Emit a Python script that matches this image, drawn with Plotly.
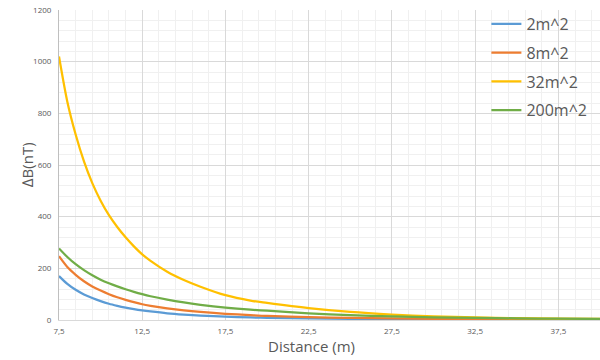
import plotly.graph_objects as go

distance = [7.5, 8, 8.5, 9, 9.5, 10, 10.5, 11, 11.5, 12, 12.5, 13, 14, 15, 16, 17.5,
            19, 20, 22.5, 25, 27.5, 30, 32.5, 35, 37.5, 40]

s_2m2 = [170, 140, 117, 99, 85, 73, 63, 55, 48, 42, 37, 33, 26, 21, 17, 13,
         10, 8.5, 6, 4.5, 3.3, 2.5, 2, 1.5, 1.2, 1]
s_8m2 = [247, 205, 175, 150, 130, 114, 100, 88, 78, 69, 61, 55, 45, 37, 31, 24,
         19, 16, 11.5, 8, 6, 4.5, 3.5, 2.5, 2, 1.5]
s_32m2 = [1020, 845, 718, 614, 530, 462, 406, 360, 320, 285, 254, 229, 187, 155, 129, 96,
          75, 66, 46, 31, 21, 14, 10, 7, 5, 4]
s_200m2 = [277, 244, 216, 193, 173, 156, 142, 130, 119, 109, 100, 92, 79, 68, 59, 48,
           40, 36, 26, 19, 14, 10.5, 8, 6.5, 5, 4]

names = ["2m^2", "8m^2", "32m^2", "200m^2"]
series = [s_2m2, s_8m2, s_32m2, s_200m2]
colors = ["#5B9BD5", "#ED7D31", "#FFC000", "#70AD47"]

x_ticks = [7.5, 12.5, 17.5, 22.5, 27.5, 32.5, 37.5]
x_ticktext = ["7,5", "12,5", "17,5", "22,5", "27,5", "32,5", "37,5"]
y_ticks = [0, 200, 400, 600, 800, 1000, 1200]

font_family = "Open Sans, Noto Sans, sans-serif"
text_color = "#595959"

fig = go.Figure()
for n, s, c in zip(names, series, colors):
    fig.add_trace(go.Scatter(
        x=distance, y=s, name=n, mode="lines",
        line=dict(color=c, width=2.25, shape="spline", smoothing=0.8),
        legendgroup=n,
    ))

fig.update_layout(
    width=600, height=360,
    margin=dict(l=59, r=0, t=10, b=40),
    plot_bgcolor="white", paper_bgcolor="white",
    font=dict(family=font_family, color=text_color),
    showlegend=True,
    legend=dict(
        x=0.79, y=1.01, xanchor="left", yanchor="top",
        bgcolor="rgba(0,0,0,0)",
        font=dict(size=16, color=text_color),
        tracegroupgap=5,
        itemwidth=30,
    ),
    xaxis=dict(
        range=[7.5, 40],
        tickvals=x_ticks, ticktext=x_ticktext,
        tickfont=dict(size=8, color=text_color),
        ticklabelstandoff=3,
        showgrid=True, gridcolor="#d9d9d9", gridwidth=1,
        minor=dict(dtick=1, tick0=7.5, showgrid=True, gridcolor="#f0f0f0", gridwidth=1),
        showline=True, linecolor="#d9d9d9", linewidth=1,
        zeroline=False, ticks="", automargin=False,
    ),
    yaxis=dict(
        range=[0, 1200],
        tickvals=y_ticks,
        tickfont=dict(size=8, color=text_color),
        ticklabelstandoff=5,
        showgrid=True, gridcolor="#d9d9d9", gridwidth=1,
        minor=dict(dtick=40, tick0=0, showgrid=True, gridcolor="#f0f0f0", gridwidth=1),
        showline=True, linecolor="#bfbfbf", linewidth=1,
        zeroline=False, ticks="", automargin=False,
    ),
    annotations=[
        dict(text="Distance (m)", xref="paper", yref="paper",
             x=0.466, y=-0.045, xanchor="center", yanchor="top",
             showarrow=False, font=dict(size=15, color=text_color)),
        dict(text="∆B(nT)", xref="paper", yref="paper",
             x=-0.059, y=0.5, xanchor="center", yanchor="middle", textangle=-90,
             showarrow=False, font=dict(size=15, color=text_color)),
    ],
)

fig.write_html("out.html", config={"displayModeBar": False},
               post_script="document.body.style.margin='0';")
